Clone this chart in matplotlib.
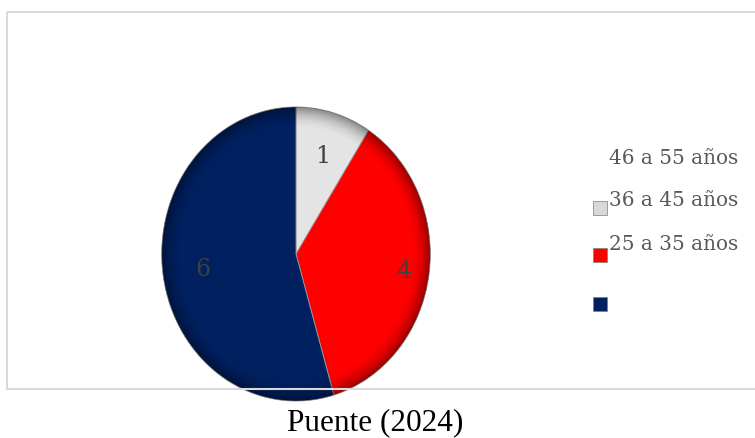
import numpy as np
import matplotlib.pyplot as plt
from matplotlib.patches import Rectangle, Ellipse

# data
valores = [1, 4, 6]
colores = ['#e4e4e4', '#ff0000', '#002060']
etiquetas = ['46 a 55 años', '36 a 45 años', '25 a 35 años', '']
colores_leyenda = [None, '#d9d9d9', '#ff0000', '#002060']
fuente = 'Puente (2024)'

W, H = 755, 439
fig = plt.figure(figsize=(W / 100, H / 100), dpi=100)
fig.patch.set_facecolor('white')


def px(x, y):
    # pixel position (from top-left) -> figure fraction
    return x / W, 1 - y / H


# pie (slightly taller than wide)
cx, cy, rx, ry = 296, 255, 137, 150
ax = fig.add_axes([(cx - rx) / W, (H - cy - ry) / H, 2 * rx / W, 2 * ry / H])
cunas, _ = ax.pie(valores, colors=colores, startangle=90, counterclock=False,
                  radius=1, wedgeprops=dict(edgecolor='#9a9a9a', linewidth=0.6))
ax.set_xlim(-1.02, 1.02)
ax.set_ylim(-1.02, 1.02)
ax.set_aspect('auto')
ax.axis('off')

# soft bevel: darker rim
n = 300
g = np.linspace(-1.02, 1.02, n)
X, Y = np.meshgrid(g, g)
R = np.sqrt(X ** 2 + Y ** 2)
sombra = np.zeros((n, n, 4))
sombra[..., 3] = np.clip((R - 0.85) / 0.15, 0, 1) ** 2 * 0.4
im = ax.imshow(sombra, extent=(-1.02, 1.02, -1.02, 1.02), origin='lower',
               zorder=3, aspect='auto')
borde = Ellipse((0, 0), 2, 2, transform=ax.transData)
im.set_clip_path(borde)

# value labels
distancias = [0.70, 0.81, 0.70]
for c, v, d in zip(cunas, valores, distancias):
    ang = np.deg2rad((c.theta1 + c.theta2) / 2)
    ax.text(d * np.cos(ang), d * np.sin(ang), str(v), ha='center', va='center',
            fontsize=17, color='#404040', family='DejaVu Serif', zorder=4)

# chart area frame, drawn on top of the pie
marco = fig.add_axes([0, 0, 1, 1], zorder=5)
marco.patch.set_alpha(0)
marco.set_xlim(0, W)
marco.set_ylim(H, 0)
marco.axis('off')
marco.add_patch(Rectangle((7, 13), 800, 377, fill=False,
                          edgecolor='#d9d9d9', linewidth=1.5))

# legend (drawn by hand)
texto_y = [159, 201, 245]
marca_y = [None, 209, 256, 305]
for lbl, y in zip(etiquetas, texto_y):
    fig.text(*px(609, y), lbl, ha='left', va='center', fontsize=14.4,
             color='#595959', family='DejaVu Serif')
for col, y in zip(colores_leyenda, marca_y):
    if col is None:
        continue
    marco.add_patch(Rectangle((593, y - 7), 14, 14, facecolor=col,
                              edgecolor='#7f7f7f', linewidth=0.5))

fig.text(*px(375, 423), fuente, ha='center', va='center', fontsize=22.5,
         color='black', family='Liberation Serif')

fig.savefig('out.png', dpi=100)
